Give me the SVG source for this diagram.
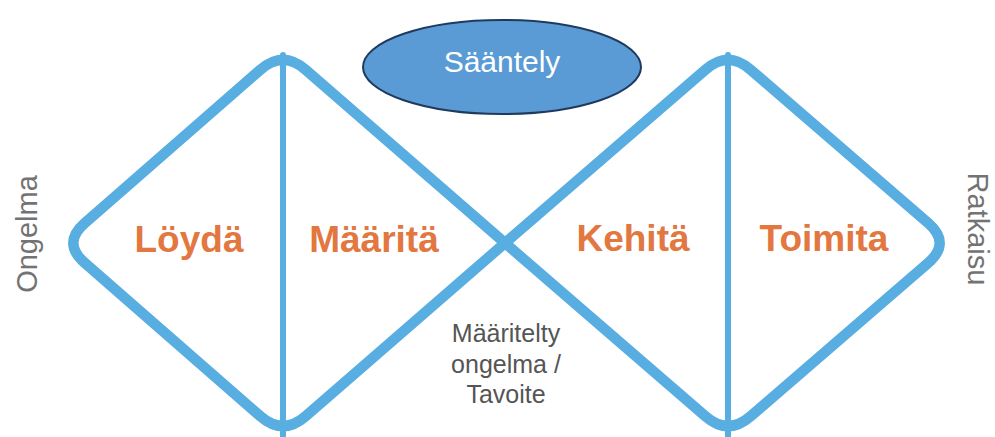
<svg xmlns="http://www.w3.org/2000/svg" width="995" height="437" viewBox="0 0 995 437">
<style>
.line{fill:none;stroke:#58ADE1;stroke-linejoin:round;stroke-linecap:round}
.phase{font-family:"Liberation Sans",Arial,sans-serif;font-weight:bold;font-size:37px;fill:#E2773F;text-anchor:middle}
.gray{font-family:"Liberation Sans",Arial,sans-serif;font-size:25px;fill:#555555;text-anchor:middle}
.side{font-family:"Liberation Sans",Arial,sans-serif;font-size:29px;fill:#737373;text-anchor:middle}
</style>
<rect width="995" height="437" fill="#ffffff"/>
<g id="connectors">
<path class="line" stroke-width="10.5" d="M260.4,69.7 Q283,50 305.6,69.7 L505,243 L705.4,416.3 Q728,436 750.6,416.3 L928.4,262.7 Q951,243 928.4,223.3 L750.6,69.7 Q728,50 705.4,69.7 L505,243 L305.6,416.3 Q283,436 260.4,416.3 L84.6,262.7 Q62,243 84.6,223.3 Z"/>
<line class="line" stroke-width="6" x1="283" y1="55" x2="283" y2="437"/>
<line class="line" stroke-width="6" x1="728" y1="55" x2="728" y2="437"/>
</g>
<g id="regulation">
<ellipse cx="502" cy="67" rx="139" ry="47" fill="#5B9BD5" stroke="#1F3A5F" stroke-width="2"/>
<text x="502" y="72" font-family="Liberation Sans,Arial,sans-serif" font-size="30" fill="#ffffff" text-anchor="middle">Sääntely</text>
</g>
<g id="loyda"><text class="phase" x="189" y="252">Löydä</text></g>
<g id="maarita"><text class="phase" x="374" y="252">Määritä</text></g>
<g id="kehita"><text class="phase" x="633" y="251">Kehitä</text></g>
<g id="toimita"><text class="phase" x="824" y="251" font-size="35">Toimita</text></g>
<g id="goal">
<text class="gray" x="506" y="342">Määritelty</text>
<text class="gray" x="506" y="373">ongelma /</text>
<text class="gray" x="506" y="403">Tavoite</text>
</g>
<g id="problem"><text class="side" transform="translate(37,234) rotate(-90)">Ongelma</text></g>
<g id="solution"><text class="side" transform="translate(968,229) rotate(90)" font-size="28">Ratkaisu</text></g>
</svg>
